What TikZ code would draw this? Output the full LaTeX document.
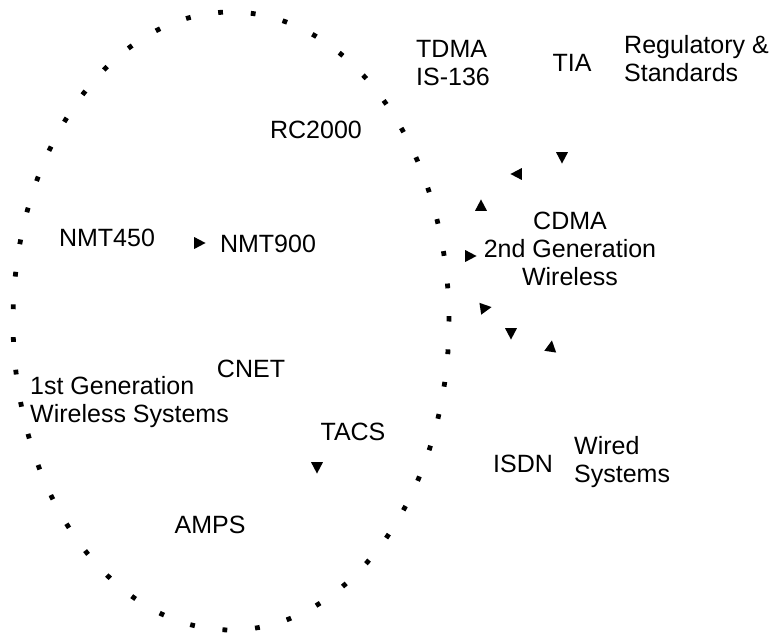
\documentclass[tikz,border=0pt]{standalone}
\usepackage{fontspec}
\setmainfont{Liberation Sans}
\usetikzlibrary{arrows.meta}
\tikzset{
  lbl/.style={font=\fontsize{25}{28}\selectfont, inner sep=0pt},
  link/.style={draw opacity=0, -{Triangle[black, length=12pt, width=12.5pt]}},
  dotring/.style={line width=4.8pt, dash pattern=on 4.8pt off 27.9pt},
}
\begin{document}
\begin{tikzpicture}[x=1pt, y=-1pt]
  \useasboundingbox (0,0) rectangle (771,634);
  % 1st generation ring
  \draw[dotring] (231,321) ellipse [x radius=218pt, y radius=309pt];
  % systems
  \node[lbl] (rc2000) at (316,130) {RC2000};
  \node[lbl] (nmt450) at (107,238) {NMT450};
  \node[lbl] (nmt900) at (268,244) {NMT900};
  \node[lbl] (cnet) at (251,369) {CNET};
  \node[lbl, align=left, anchor=west] (firstgen) at (30,402) {1st Generation\\Wireless Systems};
  \node[lbl] (tacs) at (353,432) {TACS};
  \node[lbl] (amps) at (210,525) {AMPS};
  \node[lbl, align=left] (tdma) at (453,63) {TDMA\\IS-136};
  \node[lbl] (tia) at (572,63) {TIA};
  \node[lbl, align=left, anchor=west] (regs) at (624,59) {Regulatory \&\\Standards};
  \node[lbl, align=center] (cdma) at (570,249) {CDMA\\2nd Generation\\Wireless};
  \node[lbl] (isdn) at (523,464) {ISDN};
  \node[lbl, align=left, anchor=west] (wired) at (574,462) {Wired\\Systems};
  % arrow ends
  \coordinate (nmtend) at (206,243);
  \coordinate (tacsend) at (317,474);
  \coordinate (tiadown) at (562,164);
  \coordinate (tialeft) at (510,174);
  \coordinate (cdmaup) at (481,199);
  \coordinate (cdmain) at (477,256);
  \coordinate (cdmaout) at (492,307);
  \coordinate (isdndown) at (511,340);
  \coordinate (isdnup) at (552,340);
  % links
  \draw[link] (nmt450) .. controls ([xshift=-40pt]nmtend) .. (nmtend);
  \draw[link] (tacs) .. controls ([yshift=40pt]tacsend) .. (tacsend);
  \draw[link] (tia) .. controls ([yshift=40pt]tiadown) .. (tiadown);
  \draw[link] (tia) .. controls ([xshift=40pt]tialeft) .. (tialeft);
  \draw[link] (cdma) .. controls ([yshift=-40pt]cdmaup) .. (cdmaup);
  \draw[link] (rc2000) .. controls ([xshift=-40pt]cdmain) .. (cdmain);
  \draw[link] (firstgen) .. controls ([xshift=-40pt, yshift=-6pt]cdmaout) .. (cdmaout);
  \draw[link] (cdma) .. controls ([yshift=40pt]isdndown) .. (isdndown);
  \draw[link] (isdn) .. controls ([xshift=-6pt, yshift=-40pt]isdnup) .. (isdnup);
\end{tikzpicture}
\end{document}
